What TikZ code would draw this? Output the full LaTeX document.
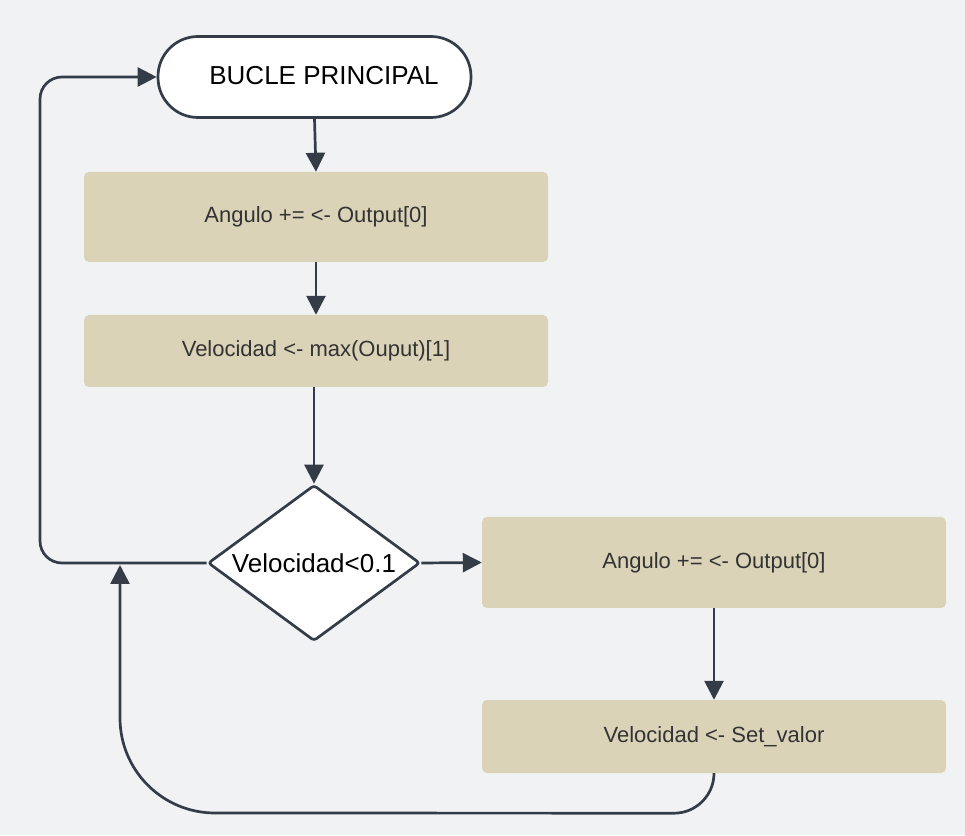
\documentclass[tikz,border=0pt]{standalone}
\usepackage{fontspec}
\setmainfont{Liberation Sans}
\usetikzlibrary{arrows.meta,shapes.geometric}
\definecolor{fondo}{RGB}{241,242,244}
\definecolor{caja}{RGB}{219,211,184}
\definecolor{linea}{RGB}{52,60,72}
\definecolor{texto}{RGB}{51,51,51}
\begin{document}
\begin{tikzpicture}[x=1pt,y=1pt,
    flow/.style={line width=2.7pt,draw=linea,-{Triangle[length=19pt,width=19pt]}},
    paso/.style={fill=caja,rounded corners=5pt,minimum width=464pt,text=texto,
        font=\fontsize{22}{26}\selectfont},
    term/.style={draw=linea,fill=white,line width=2.7pt,rounded corners=40pt,
        minimum width=313pt,minimum height=81pt,font=\fontsize{26}{30}\selectfont},
    decision/.style={diamond,draw=linea,fill=white,line width=2.7pt,rounded corners=3pt,
        minimum width=212pt,minimum height=156pt,inner sep=0pt,aspect=1.36,
        font=\fontsize{26}{30}\selectfont}]
    \fill[fondo] (0,0) rectangle (965,835);
    \useasboundingbox (0,0) rectangle (965,835);
    \node[term] (bucle) at (314.5,758) {\hspace*{19pt}\raisebox{3pt}{BUCLE PRINCIPAL}};
    \node[paso,minimum height=90pt] (ang1) at (316,618) {Angulo += <- Output[0]};
    \node[paso,minimum height=72pt] (vel1) at (316,484) {Velocidad <- max(Ouput)[1]};
    \node[decision] (dec) at (314,272) {Velocidad<0.1};
    \node[paso,minimum height=91pt] (ang2) at (714,272.5) {Angulo += <- Output[0]};
    \node[paso,minimum height=73pt] (set) at (714,98.5) {Velocidad <- Set\_valor};
    \coordinate (join) at (120,270);
    \draw[flow] (bucle.south) -- (ang1.north);
    \draw[flow] (ang1.south) -- (vel1.north);
    \draw[flow] (vel1.south -| dec.north) -- (dec.north);
    \draw[flow] (dec.east) -- (ang2.west);
    \draw[flow] (ang2.south) -- (set.north);
    \draw[flow,rounded corners=22pt] (dec.west) -- (40,272) |- (bucle.west);
    \draw[flow] (set.south) arc[start angle=0,end angle=-90,radius=40]
        -- (215,22) arc[start angle=270,end angle=180,radius=95] -- (join);
\end{tikzpicture}
\end{document}
